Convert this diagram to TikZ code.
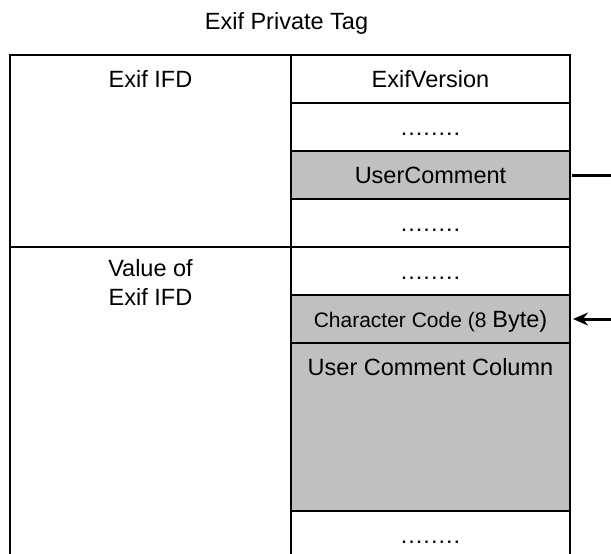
\documentclass[tikz,border=0pt]{standalone}
\usepackage{fontspec}
\setmainfont{Liberation Sans}
\usetikzlibrary{arrows.meta}
\definecolor{cellgray}{RGB}{192,192,192}
\newcommand{\dotrow}{.\kern1pt.\kern1pt.\kern1pt.\kern1pt.\kern1pt.\kern1pt.\kern1pt.}
\tikzset{
  base font/.style={font=\fontsize{23.5}{29}\selectfont},
  cell/.style={draw=black, line width=2.4pt, rectangle, inner sep=0pt, outer sep=0pt,
    minimum width=279pt, base font, text height=16.8pt, text depth=0pt},
  shaded/.style={cell, fill=cellgray},
  opencell/.style={rectangle, inner sep=0pt, outer sep=0pt, minimum width=279pt},
  txt/.style={inner sep=0pt, base font, text height=16.8pt, text depth=0pt},
  wire/.style={line width=2.4pt},
}
\begin{document}
\begin{tikzpicture}[x=1pt,y=-1pt]
\useasboundingbox (0,0) rectangle (611,554);
% title
\node[txt] (title) at (286.5,21) {Exif Private Tag};
% left column
\node[cell, minimum width=281pt, minimum height=192pt] (leftA) at (150.5,151) {};
\node[opencell, minimum width=281pt, minimum height=307pt] (leftB) at (150.5,400.5) {};
\draw[wire] (leftB.south west) |- (leftB.north east) -- (leftB.south east);
\node[txt] (leftAtext) at (150.5,79) {Exif IFD};
\node[inner sep=0pt, base font, align=center, anchor=base] (leftBtext) at (150.5,305.4) {Value of\\Exif IFD};
% right column
\node[cell, minimum height=48pt] (r1) at (430.5,79) {ExifVersion};
\node[cell, minimum height=48pt] (r2) at (430.5,127) {\dotrow};
\node[shaded, minimum height=48pt] (r3) at (430.5,175) {UserComment};
\node[cell, minimum height=48pt] (r4) at (430.5,223) {\dotrow};
\node[cell, minimum height=48pt] (r5) at (430.5,271) {\dotrow};
\node[shaded, minimum height=48pt] (r6) at (430.5,319) {{\fontsize{21}{25}\selectfont Character Code (8 }Byte)};
\node[shaded, minimum height=168pt] (r7) at (430.5,427) {};
\node[txt] (r7text) at (430.5,367) {User Comment Column};
\node[opencell, minimum height=43pt] (r8) at (430.5,532.5) {};
\draw[wire] (r8.south west) |- (r8.north east) -- (r8.south east);
\node[txt] (r8text) at (430.5,535) {\dotrow};
% connectors
\coordinate (e1) at (611,175);
\coordinate (e2) at (611,319);
\draw[wire, line width=3pt] (r3.east) ++(2pt,0) coordinate (s1) (s1) -- (e1);
\draw[wire, line width=3pt, -{Stealth[length=15pt,width=13pt,inset=5pt]}] (e2) -- ([xshift=3pt]r6.east);
\end{tikzpicture}
\end{document}
